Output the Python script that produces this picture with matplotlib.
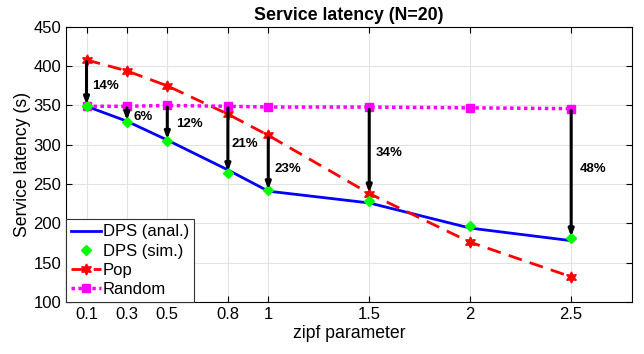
import matplotlib.pyplot as plt

plt.rcParams['font.family'] = ['Liberation Sans', 'DejaVu Sans']

zipf = [0.1, 0.3, 0.5, 0.8, 1, 1.5, 2, 2.5]
tick_labels = ['0.1', '0.3', '0.5', '0.8', '1', '1.5', '2', '2.5']
dps_anal = [349, 330, 306, 268, 241, 226, 194, 178]
dps_sim = [349, 329, 305, 264, 242, 228, 197, 181]
pop = [408, 394, 375, 339, 312, 238, 176, 132]
random_ = [349, 349, 350, 349, 348, 348, 347, 346]

# arrows between schemes, with their gain labels
gain_x = [0.1, 0.3, 0.5, 0.8, 1, 1.5, 2.5]
gain_from = [406, 347, 348, 347, 309, 345, 344]
gain_to = [351, 331, 307, 266, 243, 239, 183]
gain_labels = ['14%', '6%', '12%', '21%', '23%', '34%', '48%']
label_x = [0.13, 0.335, 0.545, 0.82, 1.03, 1.53, 2.54]
label_y = [375, 335, 327, 301, 269, 290, 269]

fig, ax = plt.subplots(figsize=(6.44, 3.54), dpi=100)

ax.plot(zipf, dps_anal, color='#0000ff', lw=2, label='DPS (anal.)', zorder=3)
ax.plot(zipf, dps_sim, linestyle='none', marker='D', ms=5, color='#00ff00',
        label='DPS (sim.)', zorder=4)
ax.plot(zipf, pop, color='#ff0000', lw=2, dashes=(5, 3), marker=(6, 1, 0),
        ms=8, label='Pop', zorder=3)
ax.plot(zipf, random_, color='#ff00ff', lw=2.5, dashes=(1, 1), marker='s',
        ms=6, label='Random', zorder=3)

for x, y0, y1 in zip(gain_x, gain_from, gain_to):
    ax.annotate('', xy=(x, y1), xytext=(x, y0),
                arrowprops=dict(arrowstyle='-|>,head_length=0.4,head_width=0.15',
                                color='black', lw=2.2, shrinkA=0, shrinkB=0),
                zorder=5)
for t, lx, ly in zip(gain_labels, label_x, label_y):
    ax.text(lx, ly, t, fontsize=9.5, fontweight='bold', va='center', ha='left')

ax.set_xlim(0, 2.8)
ax.set_ylim(100, 450)
ax.set_xticks(zipf)
ax.set_xticklabels(tick_labels)
ax.set_yticks(range(100, 451, 50))
ax.tick_params(direction='in', top=True, right=True, labelsize=12, length=4)
ax.grid(True, color='#e3e3e3', lw=0.8)
ax.set_axisbelow(True)
for s in ax.spines.values():
    s.set_linewidth(0.8)

ax.set_title('Service latency (N=20)', fontsize=12.8, fontweight='bold', pad=5)
ax.set_xlabel('zipf parameter', fontsize=12.7, labelpad=2)
ax.set_ylabel('Service latency (s)', fontsize=12.7, labelpad=2)

leg = ax.legend(loc='lower left', fontsize=12, frameon=True, fancybox=False,
                borderaxespad=0, handlelength=1.8, handletextpad=0.1,
                labelspacing=0.25, borderpad=0.3)
leg.get_frame().set_edgecolor('#333333')
leg.get_frame().set_linewidth(0.8)
leg.get_frame().set_alpha(1)

fig.subplots_adjust(left=0.103, right=0.981, top=0.924, bottom=0.147)
fig.savefig('out.png', dpi=100)
